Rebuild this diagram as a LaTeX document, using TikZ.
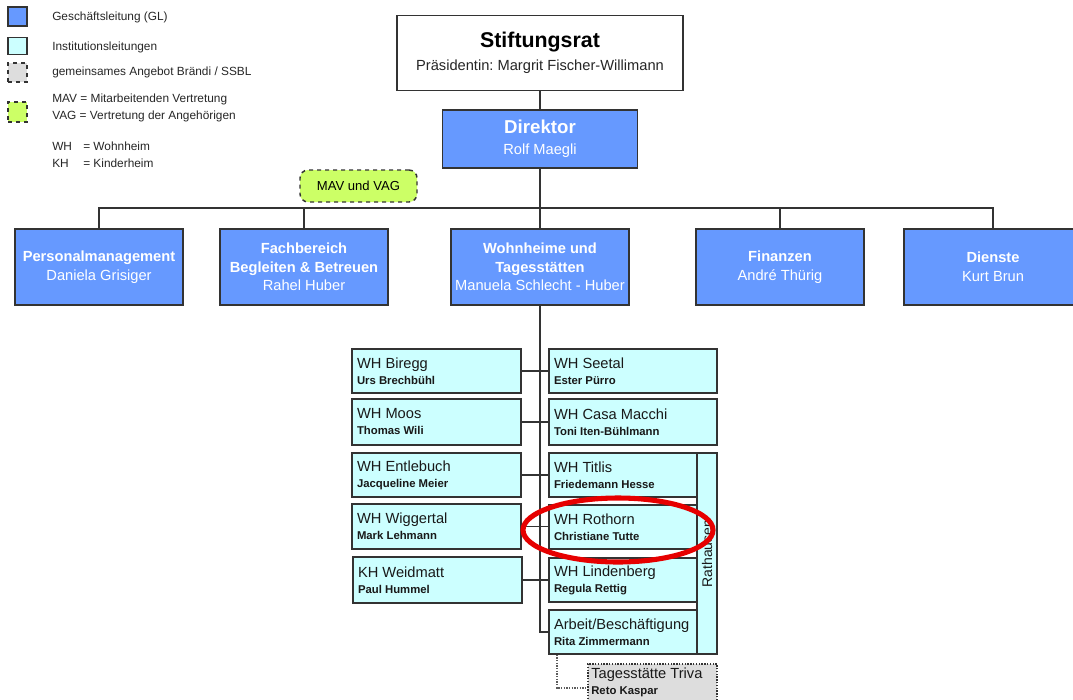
\documentclass[tikz,border=0pt]{standalone}
\usepackage{fontspec}
\setmainfont{Liberation Sans}
\usetikzlibrary{shapes.geometric}
\definecolor{glblue}{HTML}{6699FF}
\definecolor{ilcyan}{HTML}{CCFFFF}
\definecolor{sgray}{HTML}{DDDDDD}
\definecolor{mgreen}{HTML}{CCFF66}
\definecolor{lc}{HTML}{333333}
\definecolor{hlred}{HTML}{E60000}
\newcommand{\ibtext}[2]{#1\\{\fontsize{8.5}{12}\selectfont\bfseries #2}}
\frenchspacing
\begin{document}
\begin{tikzpicture}[x=0.75pt,y=-0.75pt,
  sz/.style 2 args={minimum width=#1*0.75pt, minimum height=#2*0.75pt},
  frame/.style={draw=lc, line width=1.1pt, inner sep=0pt},
  glbox/.style={frame, fill=glblue, text=white, align=center, font=\fontsize{11}{14}\selectfont},
  inbox/.style={frame, fill=ilcyan, align=flush left, inner xsep=3.75pt, font=\fontsize{11}{12}\selectfont, text=black!90},
  conn/.style={draw=lc, line width=1.1pt},
  legtext/.style={anchor=west, inner sep=0pt, font=\fontsize{8.9}{10}\selectfont, text=black!85}
]
\useasboundingbox (0,0) rectangle (1073,699);
\clip (0,0) rectangle (1073,699);

% legend
\node[frame, fill=glblue, sz={19}{19}] (lg1) at (17.5,16.5) {};
\node[frame, fill=ilcyan, sz={19}{17}] (lg2) at (17.5,46) {};
\node[frame, fill=sgray, dashed, sz={19}{19}] (lg3) at (17.5,72.5) {};
\node[frame, fill=mgreen, dashed, sz={19}{20}] (lg4) at (17.5,112) {};
\node[legtext] (lt1) at (52,17) {Geschäftsleitung (GL)};
\node[legtext] (lt2) at (52,47) {Institutionsleitungen};
\node[legtext] (lt3) at (52,72) {gemeinsames Angebot Brändi / SSBL};
\node[legtext] (lt4) at (52,99) {MAV = Mitarbeitenden Vertretung};
\node[legtext] (lt5) at (52,116) {VAG = Vertretung der Angehörigen};
\node[legtext] (lt6) at (52,146) {WH};
\node[legtext] (lt7) at (83,146) {= Wohnheim};
\node[legtext] (lt8) at (52,163) {KH};
\node[legtext] (lt9) at (83,163) {= Kinderheim};

% top
\node[frame, fill=white, sz={286}{75}, align=center, font=\fontsize{11}{17.25}\selectfont, text=black!85] (stift) at (540,53)
  {{\fontsize{16}{17.25}\selectfont\bfseries\color{black} Stiftungsrat}\\Präsidentin: Margrit Fischer-Willimann};
\node[glbox, sz={195}{58}, font=\fontsize{11}{15.75}\selectfont] (dir) at (540,139)
  {{\fontsize{14}{15.75}\selectfont\bfseries Direktor}\\Rolf Maegli};
\node[frame, fill=mgreen, dashed, rounded corners=6pt, sz={117}{32}, font=\fontsize{9.8}{11}\selectfont] (mav) at (358.5,186) {MAV und VAG};

% level 2
\node[glbox, sz={168}{76}] (pers) at (99,267) {{\bfseries Personalmanagement}\\Daniela Grisiger};
\node[glbox, sz={168}{76}] (fach) at (304,267) {{\bfseries Fachbereich}\\{\bfseries Begleiten \& Betreuen}\\Rahel Huber};
\node[glbox, sz={178}{76}] (wohn) at (540,267) {{\bfseries Wohnheime und}\\{\bfseries Tagesstätten}\\Manuela Schlecht - Huber};
\node[glbox, sz={168}{76}] (fin) at (780,267) {{\bfseries Finanzen}\\André Thürig};
\node[glbox, sz={178}{76}] (dien) at (993,267) {{\bfseries Dienste}\\Kurt Brun};

\coordinate (bus) at (540,208);
\draw[conn] (stift.south) -- (dir.north);
\draw[conn] (dir.south) -- (wohn.north);
\draw[conn] (pers.north) |- (bus) -| (dien.north);
\draw[conn] (fach.north) -- (fach.north |- bus);
\draw[conn] (fin.north) -- (fin.north |- bus);

% level 3 left
\node[inbox, sz={169}{44}, text width=119.25pt] (biregg) at (436.5,371) {\ibtext{WH Biregg}{Urs Brechbühl}};
\node[inbox, sz={169}{46}, text width=119.25pt] (moos) at (436.5,422) {\ibtext{WH Moos}{Thomas Wili}};
\node[inbox, sz={169}{44}, text width=119.25pt] (entle) at (436.5,475) {\ibtext{WH Entlebuch}{Jacqueline Meier}};
\node[inbox, sz={169}{45}, text width=119.25pt] (wigg) at (436.5,526.5) {\ibtext{WH Wiggertal}{Mark Lehmann}};
\node[inbox, sz={169}{46}, text width=119.25pt] (weid) at (437.5,580) {\ibtext{KH Weidmatt}{Paul Hummel}};

% level 3 right
\node[inbox, sz={168}{44}, text width=118.5pt] (seetal) at (633,371) {\ibtext{WH Seetal}{Ester Pürro}};
\node[inbox, sz={168}{46}, text width=118.5pt] (casa) at (633,422) {\ibtext{WH Casa Macchi}{Toni Iten-Bühlmann}};
\node[inbox, sz={148}{44}, text width=103.5pt] (titlis) at (623,475) {\ibtext{WH Titlis}{Friedemann Hesse}};
\node[inbox, sz={148}{44}, text width=103.5pt] (roth) at (623,527) {\ibtext{WH Rothorn}{Christiane Tutte}};
\node[inbox, sz={148}{44}, text width=103.5pt] (linden) at (623,580) {\ibtext{WH Lindenberg}{Regula Rettig}};
\node[inbox, sz={148}{44}, text width=103.5pt] (arbeit) at (623,632) {\ibtext{Arbeit/Beschäftigung}{Rita Zimmermann}};
\node[frame, fill=ilcyan, sz={20}{201}] (rath) at (707,553.5) {};
\node[rotate=90, inner sep=0pt, font=\fontsize{10.5}{12}\selectfont, text=black!90] (rathtxt) at (rath.center) {Rathausen};

\node[frame, fill=sgray, densely dotted, sz={129}{50}] (triva) at (652.5,689) {};
\node[anchor=north west, inner sep=0pt, align=left, font=\fontsize{11}{12}\selectfont, text=black!90] (trivatxt) at (591,668) {\ibtext{Tagesstätte Triva}{Reto Kaspar}};

% level 3 connectors
\draw[conn] (wohn.south) |- (arbeit.west);
\draw[conn] (biregg.east) -- (seetal.west);
\draw[conn] (moos.east) -- (casa.west);
\draw[conn] (entle.east) -- (titlis.west);
\draw[conn] (wigg.east) -- (roth.west |- wigg.east);
\draw[conn] (weid.east) -- (linden.west);
\coordinate (tk) at (557,688);
\draw[draw=lc!80, line width=1pt, densely dotted] (arbeit.south -| tk) -- (tk) -- (triva.west |- tk);

% highlight
\node[draw=hlred, line width=3.8pt, ellipse, inner sep=0pt, sz={190}{64}] (hl) at (618,530) {};
\end{tikzpicture}
\end{document}
